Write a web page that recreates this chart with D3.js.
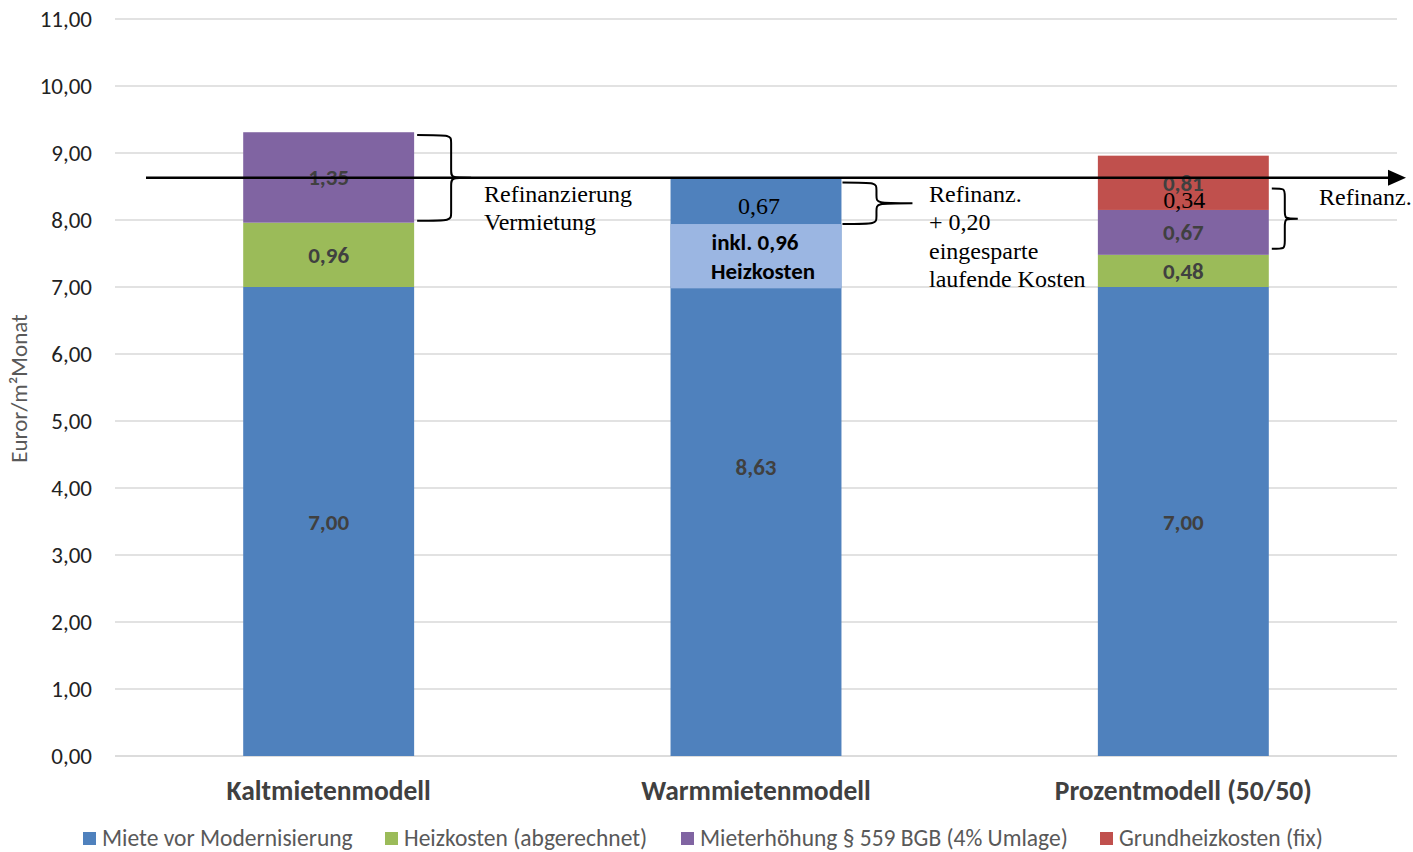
<!DOCTYPE html>
<html>
<head>
<meta charset="utf-8">
<script src="https://cdn.jsdelivr.net/npm/d3@7"></script>
<style>
  html, body { margin: 0; padding: 0; background: #fff; }
  svg { display: block; }
</style>
</head>
<body>
<svg id="chart" width="1413" height="852"></svg>
<script>
// Rent models, stacked monthly cost per m²
const categories = ["Kaltmietenmodell", "Warmmietenmodell", "Prozentmodell (50/50)"];
const seriesNames = ["Miete vor Modernisierung", "Heizkosten (abgerechnet)", "Mieterhöhung § 559 BGB (4% Umlage)", "Grundheizkosten (fix)"];
const seriesColors = ["#4f81bd", "#9bbb59", "#8064a2", "#c0504d"];
const mieteVorModernisierung = [7.00, 8.63, 7.00];
const heizkostenAbgerechnet = [0.96, 0, 0.48];
const mieterhoehung559 = [1.35, 0, 0.67];
const grundheizkostenFix = [0, 0, 0.81];
const yTicks = [0, 1, 2, 3, 4, 5, 6, 7, 8, 9, 10, 11];

// Heating share shown inside the warm-rent bar
const heizkostenInklBase = 6.98;
const heizkostenInkl = 0.96;
// Refinancing parts (labels only)
const warmRefinanz = 0.67;
const prozentRefinanz = 0.34;
const refinanzLevel = 8.63;

const fmt = v => v.toFixed(2).replace(".", ",");

const svg = d3.select("#chart");
const margin = { left: 115, right: 16, top: 19, bottom: 96 };
const W = 1413, H = 852;

const x = d3.scaleBand().domain(categories)
  .range([margin.left, W - margin.right])
  .paddingInner(0.6).paddingOuter(0.3);
const y = d3.scaleLinear().domain([0, 11]).range([H - margin.bottom, margin.top]);

const sansFont = "Carlito, Lato, 'Open Sans', sans-serif";
const serifFont = "'Liberation Serif', 'DejaVu Serif', serif";

// Gridlines
svg.append("g").selectAll("line").data(yTicks).join("line")
  .attr("x1", margin.left).attr("x2", W - margin.right)
  .attr("y1", d => y(d)).attr("y2", d => y(d))
  .attr("stroke", d => d === 0 ? "#d0d0d0" : "#d9d9d9").attr("stroke-width", 1.3);

// Y axis labels
const yAxis = svg.append("g").attr("transform", `translate(${margin.left},0)`)
  .call(d3.axisLeft(y).tickValues(yTicks).tickFormat(fmt).tickSize(0).tickPadding(23));
yAxis.select(".domain").remove();
yAxis.selectAll("text").attr("font-family", sansFont).attr("font-size", 23).attr("fill", "#222");

// Y axis title
svg.append("text")
  .attr("transform", `translate(27,${(y(0) + y(11)) / 2 + 1}) rotate(-90)`)
  .attr("text-anchor", "middle").attr("font-family", sansFont)
  .attr("font-size", 23).attr("fill", "#595959").text("Euror/m²Monat");

// Stacked data
const rows = categories.map((c, i) => ({
  cat: c,
  s0: mieteVorModernisierung[i], s1: heizkostenAbgerechnet[i],
  s2: mieterhoehung559[i], s3: grundheizkostenFix[i]
}));
const stack = d3.stack().keys(["s0", "s1", "s2", "s3"]);
const layers = stack(rows);

const barG = svg.append("g");
layers.forEach((layer, li) => {
  barG.append("g").selectAll("rect").data(layer.filter(d => d[1] - d[0] > 0)).join("rect")
    .attr("x", d => x(d.data.cat)).attr("width", x.bandwidth())
    .attr("y", d => y(d[1])).attr("height", d => y(d[0]) - y(d[1]))
    .attr("fill", seriesColors[li]);
});

// Heating share overlay in warm-rent bar
barG.append("rect")
  .attr("x", x(categories[1])).attr("width", x.bandwidth())
  .attr("y", y(heizkostenInklBase + heizkostenInkl))
  .attr("height", y(heizkostenInklBase) - y(heizkostenInklBase + heizkostenInkl))
  .attr("fill", "#9bb6e2");

// Data labels
const labelG = svg.append("g");
layers.forEach((layer, li) => {
  layer.forEach(d => {
    const v = d[1] - d[0];
    if (v <= 0) return;
    labelG.append("text")
      .attr("x", x(d.data.cat) + x.bandwidth() / 2)
      .attr("y", y((d[0] + d[1]) / 2) + 8)
      .attr("text-anchor", "middle").attr("font-family", sansFont)
      .attr("font-weight", "bold").attr("font-size", 23).attr("fill", "#404040")
      .text(fmt(v));
  });
});

// Text inside the heating overlay
const wx = x(categories[1]) + x.bandwidth() / 2;
labelG.append("text").attr("x", wx - 1).attr("y", y(7.94) + 26)
  .attr("text-anchor", "middle").attr("font-family", sansFont).attr("font-weight", "bold")
  .attr("font-size", 23).attr("fill", "#000").text("inkl. " + fmt(heizkostenInkl));
labelG.append("text").attr("x", wx + 7).attr("y", y(7.94) + 55)
  .attr("text-anchor", "middle").attr("font-family", sansFont).attr("font-weight", "bold")
  .attr("font-size", 23).attr("fill", "#000").text("Heizkosten");

// Refinancing values in serif
labelG.append("text").attr("x", wx + 3).attr("y", y(refinanzLevel - warmRefinanz / 2) + 14)
  .attr("text-anchor", "middle").attr("font-family", serifFont)
  .attr("font-size", 24).attr("fill", "#000").text(fmt(warmRefinanz));
labelG.append("text").attr("x", x(categories[2]) + x.bandwidth() / 2 + 1).attr("y", 208)
  .attr("text-anchor", "middle").attr("font-family", serifFont)
  .attr("font-size", 24).attr("fill", "#000").text(fmt(prozentRefinanz));

// Category labels
svg.append("g").selectAll("text").data(categories).join("text")
  .attr("x", d => x(d) + x.bandwidth() / 2).attr("y", 800)
  .attr("text-anchor", "middle").attr("font-family", sansFont)
  .attr("font-weight", "bold").attr("font-size", 27.5).attr("fill", "#404040")
  .text(d => d);

// Legend
const legendItems = [
  { name: seriesNames[0], color: seriesColors[0], x: 83 },
  { name: seriesNames[1], color: seriesColors[1], x: 385 },
  { name: seriesNames[2], color: seriesColors[2], x: 681 },
  { name: seriesNames[3], color: seriesColors[3], x: 1100 }
];
const lg = svg.append("g");
legendItems.forEach(it => {
  lg.append("rect").attr("x", it.x).attr("y", 832).attr("width", 13).attr("height", 13).attr("fill", it.color);
  lg.append("text").attr("x", it.x + 19).attr("y", 846)
    .attr("font-family", sansFont).attr("font-size", 23.5).attr("fill", "#595959").text(it.name);
});

// Refinancing arrow
const ay = y(refinanzLevel);
const ann = svg.append("g");
ann.append("line").attr("x1", 146).attr("x2", 1392).attr("y1", ay).attr("y2", ay)
  .attr("stroke", "#000").attr("stroke-width", 2.5);
ann.append("path").attr("d", `M1388,${ay - 8} L1406,${ay} L1388,${ay + 8} Z`).attr("fill", "#000");

// Curly braces
function brace(x0, yTop, yBot, depth, tip) {
  const ym = (yTop + yBot) / 2;
  const xm = x0 + depth;
  const r = 8;
  return `M${x0},${yTop} C${xm},${yTop} ${xm},${yTop} ${xm},${yTop + r} L${xm},${ym - r} ` +
    `C${xm},${ym} ${xm},${ym} ${xm + tip},${ym} ` +
    `C${xm},${ym} ${xm},${ym} ${xm},${ym + r} L${xm},${yBot - r} ` +
    `C${xm},${yBot} ${xm},${yBot} ${x0},${yBot}`;
}
const bx0 = x(categories[0]) + x.bandwidth();
ann.append("path").attr("d", brace(bx0 + 3, y(9.27), y(7.99), 34, 20))
  .attr("fill", "none").attr("stroke", "#000").attr("stroke-width", 2);
const bx1 = x(categories[1]) + x.bandwidth();
ann.append("path").attr("d", brace(bx1 + 1, y(8.56), y(7.94), 34, 36))
  .attr("fill", "none").attr("stroke", "#000").attr("stroke-width", 2);
const bx2 = x(categories[2]) + x.bandwidth();
ann.append("path").attr("d", brace(bx2 + 3, y(8.47), y(7.57), 13, 13))
  .attr("fill", "none").attr("stroke", "#000").attr("stroke-width", 2);

// Annotation texts
const annText = (tx, ty, s) => ann.append("text").attr("x", tx).attr("y", ty)
  .attr("font-family", serifFont).attr("font-size", 24).attr("fill", "#000").text(s);
annText(484, 202, "Refinanzierung");
annText(484, 230, "Vermietung");
annText(929, 202, "Refinanz.");
annText(929, 230, "+ 0,20");
annText(929, 259, "eingesparte");
annText(929, 287, "laufende Kosten");
annText(1319, 205, "Refinanz.");
</script>
</body>
</html>
